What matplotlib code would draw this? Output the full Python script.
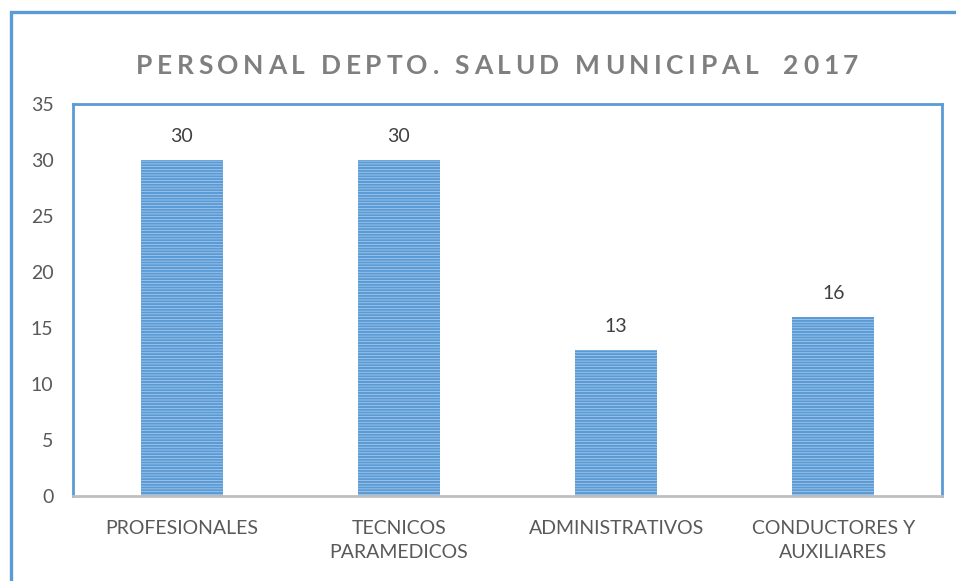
import re
import matplotlib
matplotlib.use("Agg")
import matplotlib.pyplot as plt
from matplotlib.patches import Rectangle

categories = ["PROFESIONALES", "TECNICOS\nPARAMEDICOS", "ADMINISTRATIVOS", "CONDUCTORES Y\nAUXILIARES"]
values = [30, 30, 13, 16]
yticks = [0, 5, 10, 15, 20, 25, 30, 35]
title = "PERSONAL DEPTO. SALUD MUNICIPAL   2017"

W, H = 956, 581
fig = plt.figure(figsize=(W / 100, H / 100), dpi=100)
plt.rcParams['font.family'] = ['Lato', 'DejaVu Sans']
plt.rcParams['hatch.linewidth'] = 1.5
plt.rcParams['hatch.color'] = '#5b9bd5'

# outer frame
fig.patches.append(Rectangle((11 / W, -0.1), 1.2, (H - 12) / H + 0.1, transform=fig.transFigure,
                             fill=False, edgecolor='#5b9bd5', linewidth=2.4))

ax = fig.add_axes([73 / W, 1 - 496 / H, (942 - 73) / W, (496 - 104) / H])
x = list(range(len(categories)))
bars = ax.bar(x, values, width=0.378, color='#b0d0ee', edgecolor='#5b9bd5', hatch='------', linewidth=0)
ax.set_xlim(-0.5, 3.5)
ax.set_ylim(0, 35)
ax.set_yticks(yticks)
ax.set_yticklabels([str(t) for t in yticks])
ax.set_xticks(x)
ax.set_xticklabels(categories, linespacing=1.5)
ax.tick_params(axis='both', length=0, labelsize=14, colors='#595959')
ax.tick_params(axis='y', pad=14)
ax.tick_params(axis='x', pad=17)
for s in ['left', 'top', 'right']:
    ax.spines[s].set_color('#5b9bd5')
    ax.spines[s].set_linewidth(2)
ax.spines['bottom'].set_color('#bfbfbf')
ax.spines['bottom'].set_linewidth(2)

for xi, v in zip(x, values):
    ax.annotate(str(v), (xi, v), xytext=(0, 11), textcoords='offset points',
                ha='center', va='bottom', fontsize=14, color='#404040')

# letter-spaced title
renderer = fig.canvas.get_renderer()
fs = 19
spacing = 4.6  # px between letters
tokens = re.findall(r'\S+|\s+', title)
items = []  # (char or None, advance)
for tok in tokens:
    if tok.isspace():
        gap = 16 if len(tok) == 1 else 25
        items.append((None, gap - spacing))
    else:
        for ch in tok:
            t = fig.text(0, 0, ch, fontsize=fs, fontweight='bold')
            bb = t.get_window_extent(renderer)
            t.remove()
            items.append((ch, bb.width + spacing))
total = sum(a for _, a in items) - spacing
xpos = 497 - total / 2
for ch, adv in items:
    if ch is not None:
        fig.text(xpos / W, 1 - 66 / H, ch, fontsize=fs, fontweight='bold', color='#7f7f7f',
                 ha='left', va='center')
    xpos += adv

fig.savefig("out.png", dpi=100)
